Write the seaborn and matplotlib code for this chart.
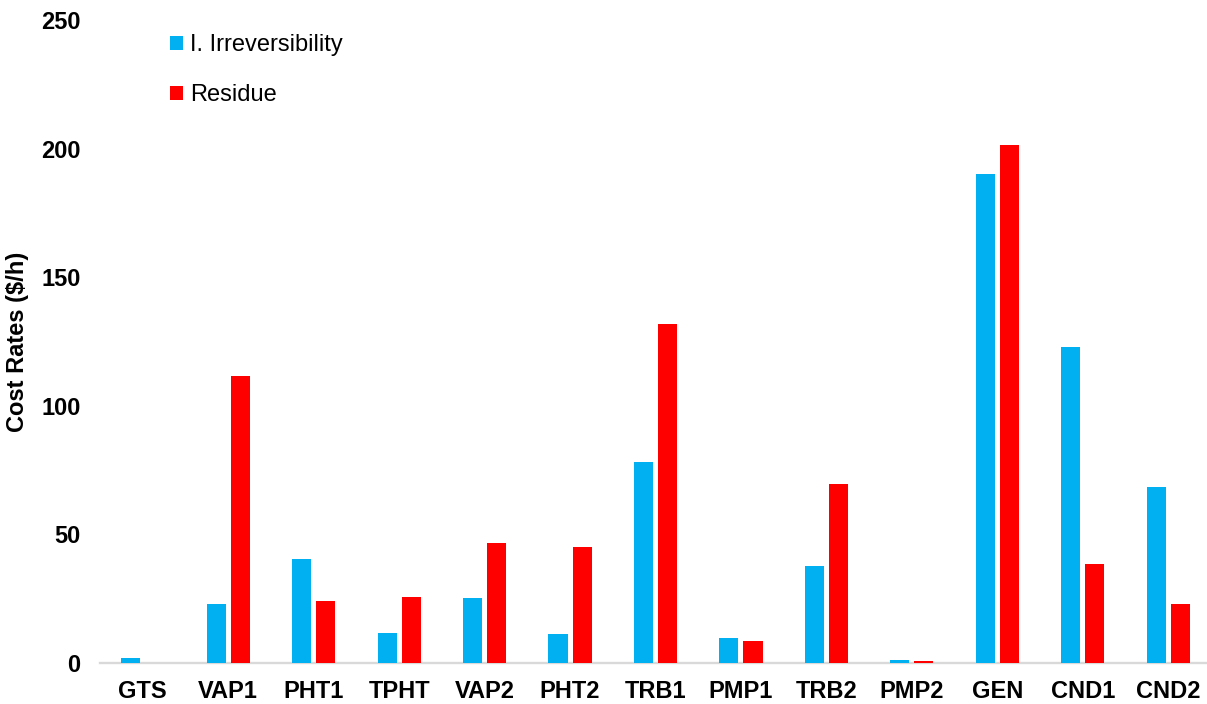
import matplotlib
matplotlib.use("Agg")
import matplotlib.pyplot as plt
from matplotlib.patches import Patch
import seaborn as sns
import pandas as pd

categories = ["GTS", "VAP1", "PHT1", "TPHT", "VAP2", "PHT2", "TRB1",
              "PMP1", "TRB2", "PMP2", "GEN", "CND1", "CND2"]
irreversibility = [2.0, 23.0, 40.4, 11.7, 25.3, 11.3, 78.1, 9.7, 37.7, 1.2, 190.1, 122.9, 68.4]
residue = [0.0, 111.6, 24.1, 25.7, 46.7, 45.1, 131.8, 8.6, 69.6, 0.9, 201.4, 38.5, 23.0]
series_names = ["I. Irreversibility", "Residue"]
colors = ["#00B0F0", "#FF0000"]
yticks = [0, 50, 100, 150, 200, 250]

df = pd.DataFrame({
    "Component": categories * 2,
    "Value": irreversibility + residue,
    "Series": [series_names[0]] * len(categories) + [series_names[1]] * len(categories),
})

sns.set_theme(style="white")
plt.rcParams["font.family"] = ["Liberation Sans", "DejaVu Sans"]
plt.rcParams["text.color"] = "black"
plt.rcParams["axes.labelcolor"] = "black"
plt.rcParams["xtick.color"] = "black"
plt.rcParams["ytick.color"] = "black"

fig = plt.figure(figsize=(12.07, 7.04), dpi=100)
ax = fig.add_axes([100 / 1207, 1 - 663 / 704, 1111 / 1207, (663 - 20) / 704])

sns.barplot(data=df, x="Component", y="Value", hue="Series", order=categories,
            hue_order=series_names, palette=colors, width=0.564, gap=0.21,
            saturation=1, linewidth=0, ax=ax, legend=False)

ax.set_xlim(-0.5, len(categories) - 0.5)
ax.set_ylim(0, 250)
ax.set_yticks(yticks)
ax.set_yticklabels([str(t) for t in yticks])
for s in ["top", "right", "left"]:
    ax.spines[s].set_visible(False)
ax.spines["bottom"].set_color("#d9d9d9")
ax.spines["bottom"].set_linewidth(1.7)
ax.spines["bottom"].set_zorder(0.5)
ax.tick_params(axis="y", length=0, pad=14, labelsize=17, labelcolor="black")
ax.tick_params(axis="x", length=0, pad=12, labelsize=17, labelcolor="black")
for lbl in ax.get_xticklabels() + ax.get_yticklabels():
    lbl.set_fontweight("bold")
ax.set_xlabel("")
ax.set_ylabel("Cost Rates ($/h)", fontsize=17, fontweight="bold", labelpad=9,
              color="black")
ax.grid(False)

handles = [Patch(facecolor=c, edgecolor="none") for c in colors]
fig.legend(handles, series_names, loc="upper left",
           bbox_to_anchor=(170 / 1207, 1 - 34 / 704), frameon=False,
           fontsize=17, handlelength=0.55, handleheight=0.55,
           handletextpad=0.3, labelspacing=1.2, borderpad=0, borderaxespad=0,
           labelcolor="black")

fig.savefig("out.png", dpi=100)
